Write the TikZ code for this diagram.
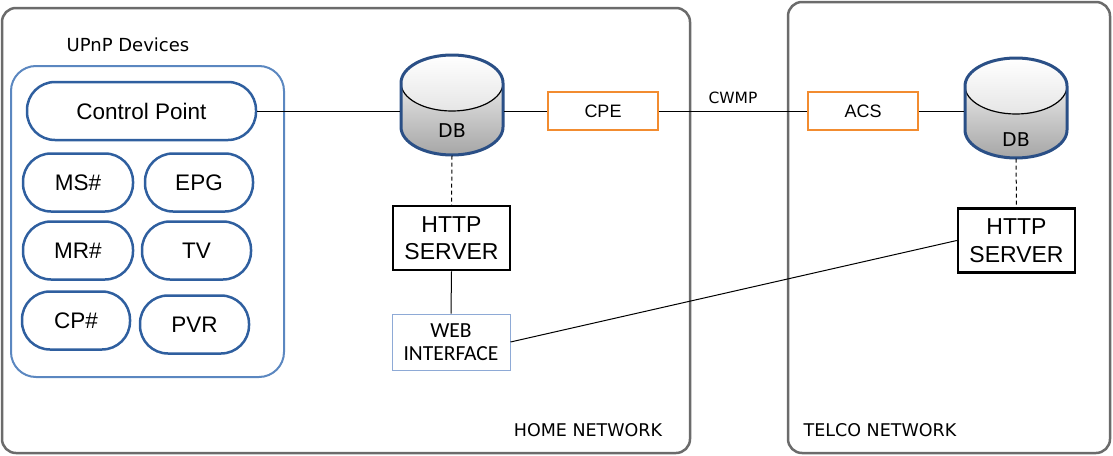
\documentclass[tikz,border=0pt]{standalone}
\usepackage{fontspec}
\setmainfont{Liberation Sans}
\newfontfamily\labelfont{DejaVu Sans}
\newfontfamily\calfont{Carlito}

\definecolor{zonegray}{HTML}{6B6B6B}
\definecolor{upblue}{HTML}{5B87C0}
\definecolor{pillblue}{HTML}{2F5F9F}
\definecolor{orng}{HTML}{F28C30}
\definecolor{dbblue}{HTML}{2A4F86}
\definecolor{webblue}{HTML}{8EAAD6}

% cylinder: centre x, radius x, top-ellipse centre y, bottom-ellipse centre y, radius y
\newcommand{\dbdrum}[5]{%
  \shade[top color=white, bottom color=black!35]
    (#1-#2,#3) -- (#1-#2,#4) arc (180:0:#2 and #5) -- (#1+#2,#3) arc (0:-180:#2 and #5) -- cycle;
  \shade[top color=white, bottom color=black!10]
    (#1,#3) ellipse (#2 and #5);
  \draw[black, line width=1.2pt] (#1-#2,#3) arc (180:0:#2 and #5);
  \draw[dbblue, line width=3pt]
    (#1-#2,#3) -- (#1-#2,#4) arc (180:0:#2 and #5) -- (#1+#2,#3) arc (0:-180:#2 and #5) -- cycle;
}

\begin{document}
\begin{tikzpicture}[x=1pt,y=-1pt,
  zone/.style={draw=zonegray, line width=2.5pt, rounded corners=14pt},
  upbox/.style={draw=upblue, line width=2pt, rounded corners=25pt},
  pill/.style={draw=pillblue, line width=2.5pt, rounded corners=28pt, fill=white,
    inner sep=0pt, minimum height=58pt, font=\fontsize{22.5}{26}\selectfont},
  orbox/.style={draw=orng, line width=2.5pt, inner sep=0pt, minimum width=110pt,
    minimum height=38pt, font=\fontsize{18}{21}\selectfont},
  srvbox/.style={draw=black, line width=2.5pt, fill=white, inner sep=0pt, minimum width=117pt,
    minimum height=64pt, align=center, font=\fontsize{23}{27.5}\selectfont},
  webbox/.style={draw=webblue, line width=1pt, fill=white, inner sep=0pt, minimum width=118pt,
    minimum height=56pt, align=center, font=\calfont\fontsize{21.5}{23.5}\selectfont},
  lbl/.style={font=\labelfont\fontsize{17.5}{20}\selectfont, inner sep=0pt},
  dbholder/.style={inner sep=0pt, minimum width=103pt, minimum height=101pt},
  conn/.style={draw=black, line width=1pt},
  dconn/.style={draw=black, line width=1pt, dash pattern=on 4pt off 3pt}
]
\useasboundingbox (0,0) rectangle (1113,455);

% network zones
\draw[zone] (2,8) rectangle (690,453);
\draw[zone] (788,2) rectangle (1110,453);
\node[lbl] (homelbl) at (588,430) {HOME NETWORK};
\node[lbl] (telcolbl) at (880,430) {TELCO NETWORK};

% UPnP devices group
\node[lbl, font=\labelfont\fontsize{18}{20}\selectfont] (upnplbl) at (128,45) {UPnP Devices};
\draw[upbox] (11,66) rectangle (284,377);
\node[pill, minimum width=229pt] (cp) at (141.5,111) {Control Point};
\node[pill, minimum width=110pt] (ms)  at (78,182.5)  {MS\#};
\node[pill, minimum width=108pt] (epg) at (199,182.5) {EPG};
\node[pill, minimum width=110pt] (mr)  at (78,250.5)  {MR\#};
\node[pill, minimum width=109pt] (tv)  at (196.5,250.5) {TV};
\node[pill, minimum width=108pt] (cpn) at (76,320.5)  {CP\#};
\node[pill, minimum width=109pt] (pvr) at (194.5,324.5) {PVR};

% databases
\dbdrum{452}{51}{83}{127}{28}
\node[dbholder] (dbL) at (452,105) {};
\node[lbl, font=\labelfont\fontsize{19}{22}\selectfont] (dbLtxt) at (452,131) {DB};

\dbdrum{1016}{51}{86}{130}{28}
\node[dbholder] (dbR) at (1016,108) {};
\node[lbl, font=\labelfont\fontsize{19}{22}\selectfont] (dbRtxt) at (1016,140) {DB};

% management boxes
\node[orbox] (cpe) at (603,111) {CPE};
\node[orbox] (acs) at (863,111) {ACS};
\node[lbl, font=\labelfont\fontsize{15.5}{18}\selectfont] (cwmp) at (733,98) {CWMP};

% servers and web interface
\node[srvbox] (httpL) at (451.5,238) {HTTP\\SERVER};
\node[srvbox] (httpR) at (1016.5,240.5) {HTTP\\SERVER};
\node[webbox] (webif) at (451,342) {WEB\\INTERFACE};

% connectors
\draw[conn] (cp.east) -- (cp.east -| dbL.west);
\draw[conn] (dbL.east |- cpe.west) -- (cpe.west);
\draw[conn] (cpe.east) -- (acs.west);
\draw[conn] (acs.east) -- (acs.east -| dbR.west);
\draw[dconn] (dbL.south) -- (httpL.north);
\draw[dconn] (dbR.south) -- (httpR.north);
\draw[conn] (httpL.south) -- (webif.north);
\draw[conn] (webif.east) -- (httpR.west);
\end{tikzpicture}
\end{document}
